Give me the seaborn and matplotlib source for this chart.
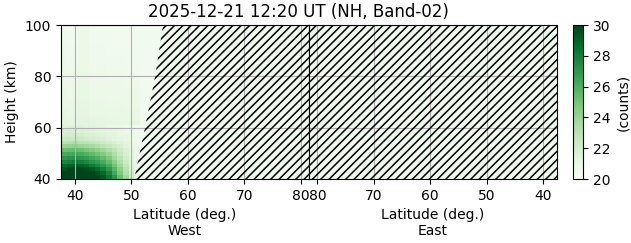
import numpy as np
import pandas as pd
import matplotlib
matplotlib.use("Agg")
import matplotlib.pyplot as plt
import seaborn as sns

# ---------------- data ----------------
title = "2025-12-21 12:20 UT (NH, Band-02)"
lats = list(range(38, 82))                 # latitude bin centres (deg.)
height_step = 1.5                          # km per height bin
height_bottom, height_top = 40, 100
lat_ticks = [40, 50, 60, 70, 80]
height_ticks = [40, 60, 80, 100]
cbar_ticks = [20, 22, 24, 26, 28, 30]
vmin, vmax = 20, 30

# lower-left block of the West panel: rows 40-61 km (bottom -> top), lat 38..51
west_low = [
    [30.0, 30.0, 30.0, 30.0, 30.0, 30.0, 30.0, 29.5, 28.3, 27.0, 25.3, 23.8, 22.3, 21.2],
    [30.0, 30.0, 30.0, 30.0, 30.0, 30.0, 29.5, 28.8, 27.8, 26.3, 24.8, 23.3, 22.0, 21.1],
    [29.5, 30.0, 30.0, 30.0, 29.8, 29.3, 28.7, 28.0, 27.0, 25.7, 24.3, 23.0, 21.8, 21.0],
    [28.7, 29.0, 29.2, 29.0, 28.7, 28.2, 27.7, 27.0, 26.2, 25.0, 23.8, 22.7, 21.6, 20.9],
    [27.8, 28.0, 28.2, 28.0, 27.7, 27.2, 26.8, 26.2, 25.4, 24.4, 23.3, 22.4, 21.5, 20.9],
    [27.0, 27.2, 27.3, 27.1, 26.8, 26.4, 26.0, 25.4, 24.7, 23.8, 22.9, 22.1, 21.4, 20.8],
    [26.2, 26.3, 26.4, 26.2, 25.9, 25.5, 25.1, 24.6, 24.0, 23.3, 22.5, 21.9, 21.2, 20.8],
    [25.2, 25.3, 25.4, 25.2, 24.9, 24.6, 24.2, 23.8, 23.3, 22.8, 22.2, 21.7, 21.1, 20.7],
    [24.0, 24.1, 24.2, 24.0, 23.8, 23.6, 23.3, 23.0, 22.6, 22.2, 21.8, 21.4, 21.0, 20.7],
    [23.0, 23.1, 23.2, 23.0, 22.9, 22.7, 22.5, 22.3, 22.0, 21.8, 21.5, 21.2, 20.9, 20.6],
    [22.4, 22.5, 22.5, 22.4, 22.2, 22.1, 21.9, 21.8, 21.6, 21.4, 21.2, 21.0, 20.8, 20.6],
    [22.0, 22.1, 22.1, 22.0, 21.8, 21.7, 21.6, 21.5, 21.3, 21.2, 21.0, 20.9, 20.7, 20.6],
    [21.7, 21.8, 21.8, 21.7, 21.6, 21.5, 21.4, 21.3, 21.2, 21.1, 20.9, 20.8, 20.7, 20.5],
    [21.5, 21.6, 21.6, 21.6, 21.4, 21.3, 21.2, 21.1, 21.0, 21.0, 20.9, 20.8, 20.6, 20.5],
]
# upper rows (61-100 km) of the West panel, lat 38..51
west_upper = [21.2, 21.1, 21.05, 21.0, 20.95, 20.9, 20.85, 20.8, 20.8, 20.75,
              20.7, 20.7, 20.65, 20.65, 20.6, 20.6, 20.55, 20.55, 20.5, 20.5,
              20.5, 20.45, 20.45, 20.45, 20.45, 20.45]
west_upper_lat_shift = [0.1, 0.0, 0.0, 0.2, 0.2, 0.0, 0.0, 0.0, -0.05, -0.05,
                        -0.05, -0.1, -0.1, -0.1]
night_level = 20.4                          # counts in the hatched (no-sun) area

# edge of the hatched region in the West panel
edge_heights = [40, 60, 80, 100]
edge_lats = [50.5, 52.4, 54.2, 55.6]

# ---------------- build tables ----------------
n_rows = int(round((height_top - height_bottom) / height_step))
heights = height_bottom + height_step * (np.arange(n_rows) + 0.5)
n_block = len(west_low[0])

west = np.full((n_rows, len(lats)), night_level)
for i, row in enumerate(west_low):
    west[i, :n_block] = row
for j, base in enumerate(west_upper):
    west[len(west_low) + j, :n_block] = [base + s for s in west_upper_lat_shift]
east = np.full((n_rows, len(lats)), night_level)

west_df = pd.DataFrame(west, index=np.round(heights, 2), columns=lats)
east_df = pd.DataFrame(east, index=np.round(heights, 2), columns=lats)

lat0 = lats[0] - 0.5


def lx(lat):
    return lat - lat0


def hy(h):
    return (h - height_bottom) / height_step


plt.rcParams["hatch.linewidth"] = 1.1

# ---------------- figure ----------------
fig = plt.figure(figsize=(6.31, 2.43), dpi=100)
ax_w = fig.add_axes([61 / 631, 64 / 243, 248 / 631, 154 / 243])
ax_e = fig.add_axes([309 / 631, 64 / 243, 248 / 631, 154 / 243])
cax = fig.add_axes([573 / 631, 64 / 243, 10 / 631, 154 / 243])

sns.heatmap(west_df, ax=ax_w, cmap="Greens", vmin=vmin, vmax=vmax,
            cbar=True, cbar_ax=cax, cbar_kws={"ticks": cbar_ticks},
            xticklabels=False, yticklabels=False)
sns.heatmap(east_df, ax=ax_e, cmap="Greens", vmin=vmin, vmax=vmax,
            cbar=False, xticklabels=False, yticklabels=False)

for ax in (ax_w, ax_e):
    ax.invert_yaxis()  # low heights at bottom
    for s in ax.spines.values():
        s.set_visible(True)
        s.set_color("black")
        s.set_linewidth(0.8)
    ax.set_xticks([lx(t) for t in lat_ticks])
    ax.set_xticklabels([str(t) for t in lat_ticks], fontsize=10)
    ax.set_yticks([hy(t) for t in height_ticks])
    ax.grid(True, color="#b0b0b0", linewidth=0.8)
    ax.tick_params(axis="both", direction="out", length=3.5, width=0.8)

ax_w.set_yticklabels([str(t) for t in height_ticks], fontsize=10, rotation=0)
ax_w.set_ylabel("Height (km)", fontsize=10)
ax_e.set_yticklabels([])
ax_e.tick_params(axis="y", length=0)
ax_e.invert_xaxis()

ax_w.set_xlabel("Latitude (deg.)\nWest", fontsize=10)
ax_e.set_xlabel("Latitude (deg.)\nEast", fontsize=10)

# hatched (no-sun) regions
ax_w.fill_betweenx([hy(h) for h in edge_heights], [lx(l) for l in edge_lats],
                   lx(lats[-1] + 0.5), hatch="////", facecolor="none",
                   edgecolor="black", linewidth=0, zorder=2)
ax_e.fill_betweenx([hy(height_bottom), hy(height_top)], 0, lx(lats[-1] + 0.5),
                   hatch="////", facecolor="none", edgecolor="black",
                   linewidth=0, zorder=2)

cb = ax_w.collections[0].colorbar
cb.outline.set_linewidth(0.8)
cb.outline.set_edgecolor("black")
cb.ax.tick_params(labelsize=10, length=3.5, width=0.8)
cb.set_label("(counts)", fontsize=10)

fig.text(298.5 / 631, 1 - 12 / 243, title, ha="center", va="center", fontsize=12)

fig.savefig("out.png", dpi=100)
